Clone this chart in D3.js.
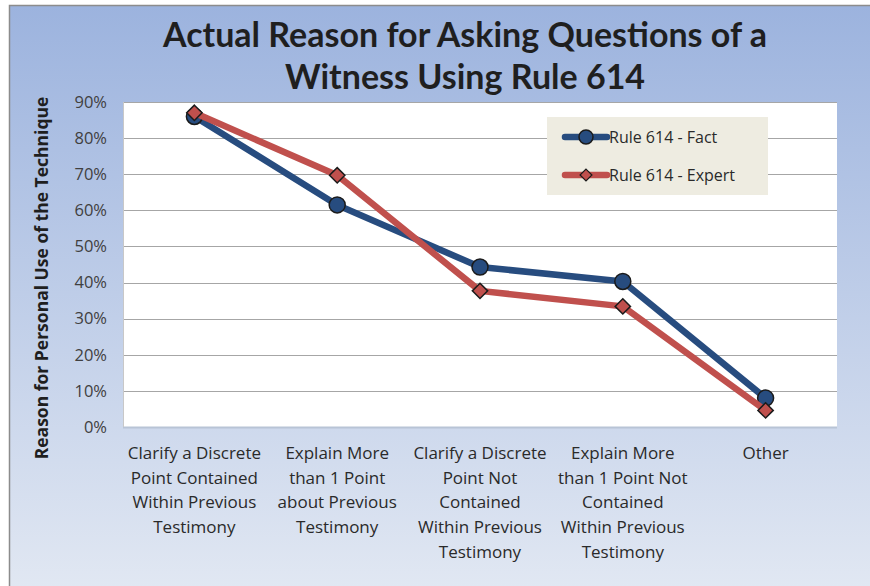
<!DOCTYPE html>
<html>
<head>
<meta charset="utf-8">
<script src="https://d3js.org/d3.v7.min.js"></script>
<title>Actual Reason for Asking Questions of a Witness Using Rule 614</title>
<style>
body { margin: 0; background: #fff; }
svg { display: block; font-family: "Open Sans", sans-serif; }
</style>
</head>
<body>
<svg width="870" height="586"></svg>
<script>

// data
let categories = [
  ["Clarify a Discrete", "Point Contained", "Within Previous", "Testimony"],
  ["Explain More", "than 1 Point", "about Previous", "Testimony"],
  ["Clarify a Discrete", "Point Not", "Contained", "Within Previous", "Testimony"],
  ["Explain More", "than 1 Point Not", "Contained", "Within Previous", "Testimony"],
  ["Other"]
];
let factValues = [0.86, 0.615, 0.443, 0.403, 0.08];
let expertValues = [0.87, 0.697, 0.377, 0.334, 0.046];
let seriesNames = ["Rule 614 - Fact", "Rule 614 - Expert"];
let yTicks = [0, 0.1, 0.2, 0.3, 0.4, 0.5, 0.6, 0.7, 0.8, 0.9];

let svg = d3.select("svg");
let plot = {left: 123, right: 837, top: 102, bottom: 427};

// background
let defs = svg.append("defs");
let grad = defs.append("linearGradient")
  .attr("id", "bg").attr("x1", 0).attr("y1", 0).attr("x2", 0).attr("y2", 1);
grad.append("stop").attr("offset", "0%").attr("stop-color", "#9cb3de");
grad.append("stop").attr("offset", "100%").attr("stop-color", "#e3e9f3");

svg.append("rect")
  .attr("x", 9.5).attr("y", 5.5).attr("width", 870).attr("height", 600)
  .attr("fill", "url(#bg)")
  .attr("stroke", "#8c8c8c").attr("stroke-width", 1.5);

// title
let titleLines = ["Actual Reason for Asking Questions of a", "Witness Using Rule 614"];
svg.append("g")
  .selectAll("text")
  .data(titleLines)
  .join("text")
  .attr("x", 465).attr("y", (d, i) => 47 + i * 42)
  .attr("text-anchor", "middle")
  .attr("font-family", "Lato, sans-serif")
  .attr("font-size", 34).attr("font-weight", "bold").attr("fill", "#1f1f1f")
  .text(d => d);

// scales
let x = d3.scaleBand()
  .domain(d3.range(categories.length))
  .range([plot.left, plot.right]);
let y = d3.scaleLinear()
  .domain([0, 0.9])
  .range([plot.bottom, plot.top]);

// plot area
svg.append("rect")
  .attr("x", plot.left).attr("y", plot.top)
  .attr("width", plot.right - plot.left).attr("height", plot.bottom - plot.top)
  .attr("fill", "#fff");

// gridlines
svg.append("g")
  .selectAll("line")
  .data(yTicks)
  .join("line")
  .attr("x1", plot.left).attr("x2", plot.right)
  .attr("y1", d => Math.round(y(d)) + 0.5).attr("y2", d => Math.round(y(d)) + 0.5)
  .attr("stroke", d => d === 0 ? "#b8c4d6" : "#a6a6a6")
  .attr("stroke-width", d => d === 0 ? 2 : 1.2);

svg.append("line")
  .attr("x1", plot.left + 0.5).attr("x2", plot.left + 0.5)
  .attr("y1", plot.top).attr("y2", plot.bottom)
  .attr("stroke", "#c8c8c8");

// y axis
let yAxis = svg.append("g")
  .attr("transform", "translate(" + plot.left + ",0)")
  .call(d3.axisLeft(y).tickValues(yTicks).tickFormat(d3.format(".0%")).tickSize(0).tickPadding(16));
yAxis.select(".domain").remove();
yAxis.selectAll("text")
  .attr("font-family", "'Open Sans', sans-serif")
  .attr("font-size", 16.5).attr("fill", "#404040");

svg.append("text")
  .attr("transform", "translate(48,278) rotate(-90)")
  .attr("text-anchor", "middle")
  .attr("font-size", 17.5).attr("font-weight", "bold").attr("fill", "#1f1f1f")
  .text("Reason for Personal Use of the Technique");

// x labels
let xl = svg.append("g")
  .selectAll("text")
  .data(categories)
  .join("text")
  .attr("text-anchor", "middle")
  .attr("font-size", 17).attr("fill", "#2a2a2a");
xl.each(function(lines, i) {
  d3.select(this).selectAll("tspan")
    .data(lines)
    .join("tspan")
    .attr("x", x(i) + x.bandwidth() / 2)
    .attr("y", (d, j) => 459 + j * 24.7)
    .text(d => d);
});

// lines
let line = d3.line()
  .x((d, i) => x(i) + x.bandwidth() / 2)
  .y(d => y(d));

svg.append("path")
  .datum(factValues)
  .attr("d", line)
  .attr("fill", "none").attr("stroke", "#274c7f")
  .attr("stroke-width", 6.5).attr("stroke-linejoin", "round");

svg.append("g")
  .selectAll("circle")
  .data(factValues)
  .join("circle")
  .attr("cx", (d, i) => x(i) + x.bandwidth() / 2)
  .attr("cy", d => y(d))
  .attr("r", 8)
  .attr("fill", "#274c7f").attr("stroke", "#1b1b1b").attr("stroke-width", 1.5);

svg.append("path")
  .datum(expertValues)
  .attr("d", line)
  .attr("fill", "none").attr("stroke", "#c0504d")
  .attr("stroke-width", 6.5).attr("stroke-linejoin", "round");

let diamond = d3.symbol().type(d3.symbolDiamond2).size(150);
svg.append("g")
  .selectAll("path")
  .data(expertValues)
  .join("path")
  .attr("transform", (d, i) => "translate(" + (x(i) + x.bandwidth() / 2) + "," + y(d) + ")")
  .attr("d", diamond)
  .attr("fill", "#c0504d").attr("stroke", "#1b1b1b").attr("stroke-width", 1.5);

// legend
let legend = svg.append("g");
legend.append("rect")
  .attr("x", 547).attr("y", 117).attr("width", 221).attr("height", 78)
  .attr("fill", "#eeece1");

let legendRows = legend.selectAll("g.row")
  .data(seriesNames)
  .join("g")
  .attr("class", "row")
  .attr("transform", (d, i) => "translate(0," + (137 + i * 38) + ")");

legendRows.append("line")
  .attr("x1", 565).attr("x2", 607)
  .attr("stroke", (d, i) => i === 0 ? "#274c7f" : "#c0504d")
  .attr("stroke-width", 6.5).attr("stroke-linecap", "round");

legendRows.filter((d, i) => i === 0).append("circle")
  .attr("cx", 586).attr("r", 7)
  .attr("fill", "#274c7f").attr("stroke", "#1b1b1b").attr("stroke-width", 1.5);

legendRows.filter((d, i) => i === 1).append("path")
  .attr("transform", "translate(586,0)")
  .attr("d", d3.symbol().type(d3.symbolDiamond2).size(90))
  .attr("fill", "#c0504d").attr("stroke", "#1b1b1b").attr("stroke-width", 1.2);

legendRows.append("text")
  .attr("x", 609).attr("y", 6)
  .attr("font-size", 16).attr("fill", "#2a2a2a")
  .text(d => d);

</script>
</body>
</html>
